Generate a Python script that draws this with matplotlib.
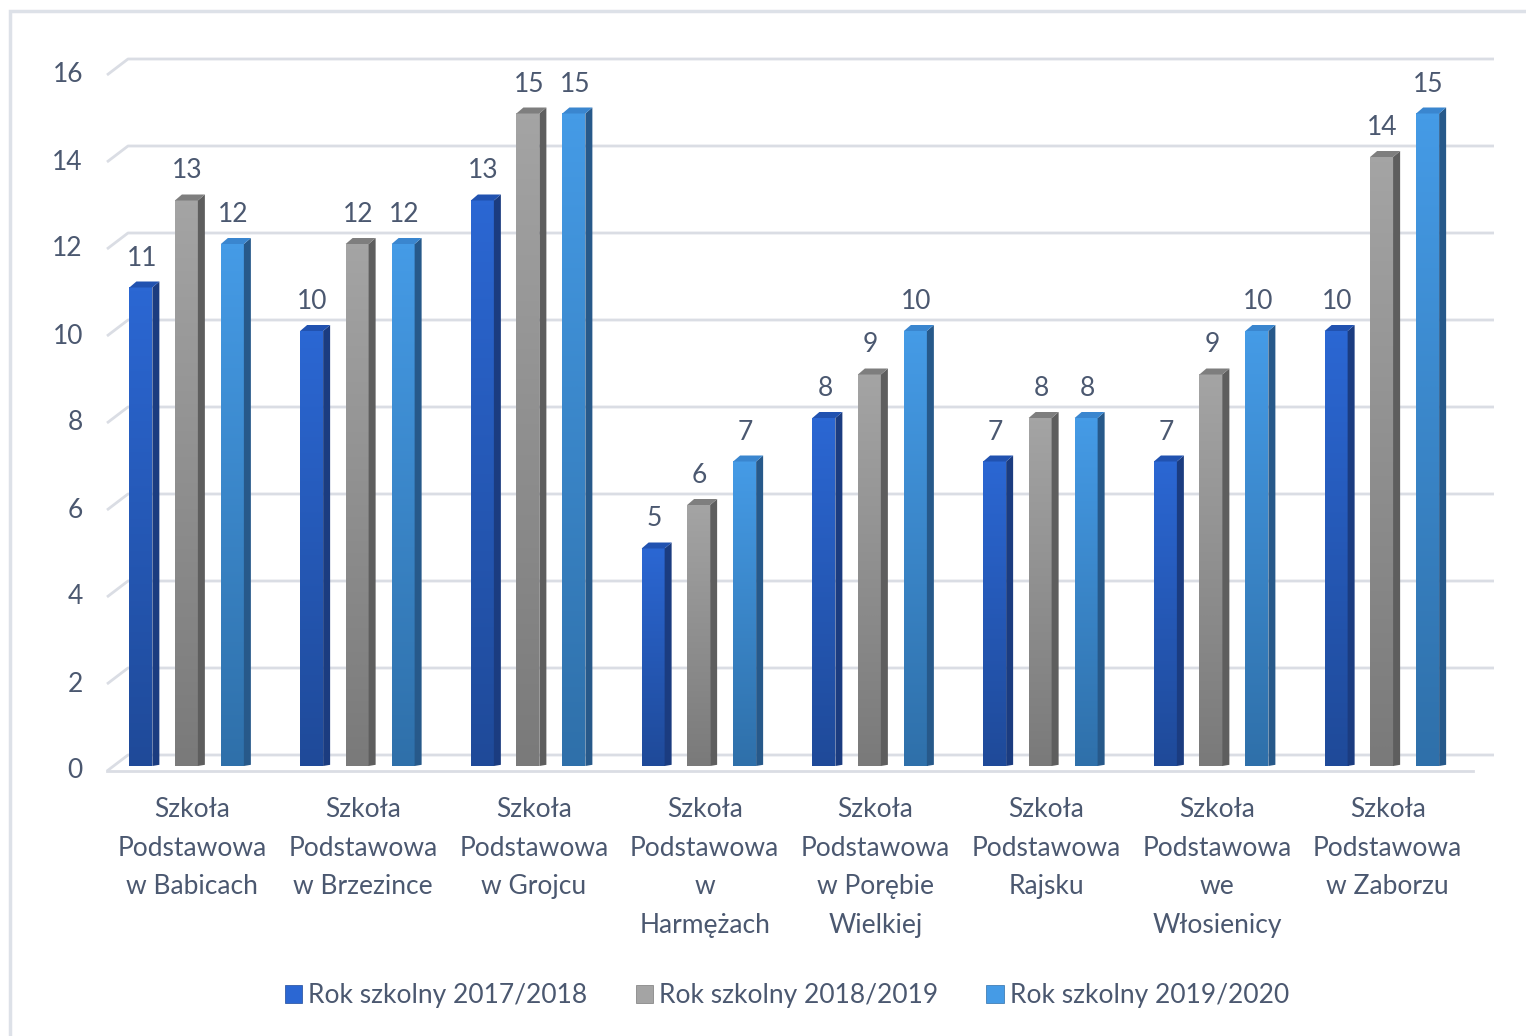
import numpy as np
import matplotlib.pyplot as plt
from matplotlib.patches import Polygon, Rectangle, Patch
from matplotlib.colors import LinearSegmentedColormap

plt.rcParams['font.family'] = ['Lato', 'DejaVu Sans']

# Dane
szkoly = [
    "Szkoła\nPodstawowa\nw Babicach",
    "Szkoła\nPodstawowa\nw Brzezince",
    "Szkoła\nPodstawowa\nw Grojcu",
    "Szkoła\nPodstawowa\nw\nHarmężach",
    "Szkoła\nPodstawowa\nw Porębie\nWielkiej",
    "Szkoła\nPodstawowa\nRajsku",
    "Szkoła\nPodstawowa\nwe\nWłosienicy",
    "Szkoła\nPodstawowa\nw Zaborzu",
]
lata = ["Rok szkolny 2017/2018", "Rok szkolny 2018/2019", "Rok szkolny 2019/2020"]
rok_2017 = [11, 10, 13, 5, 8, 7, 7, 10]
rok_2018 = [13, 12, 15, 6, 9, 8, 9, 14]
rok_2019 = [12, 12, 15, 7, 10, 8, 10, 15]
serie = [rok_2017, rok_2018, rok_2019]
y_ticks = list(range(0, 17, 2))

# kolory: (góra frontu, dół frontu, bok, wierzch)
kolory = [
    ("#2b67d3", "#1f4a99", "#1b3c80", "#2152b0"),
    ("#a4a4a4", "#7a7a7a", "#5e5e5e", "#7e7e7e"),
    ("#459be6", "#2f70aa", "#27598a", "#3a86cf"),
]
tekst = "#4b5870"
siatka = "#dadde4"
fs = 19

W, H = 1526, 1036
fig = plt.figure(figsize=(W / 100, H / 100), dpi=100)

# osie: x w płaszczyźnie przedniej (107..1473 px), y w płaszczyźnie słupków (766..70 px)
x0, x1 = 107, 1473
yb, yt = 766, 70
ax = fig.add_axes([x0 / W, (H - yb) / H, (x1 - x0) / W, (yb - yt) / H])
ax.set_xlim(-0.5, 7.5)
ax.set_ylim(0, 16)
ax.axis('off')

sx = 8 / (x1 - x0)   # jednostki danych na piksel
sy = 16 / (yb - yt)

# siatka 3D (ściana tylna + ukośny odcinek)
for v in y_ticks:
    yf = v - 5 * sy
    yk = v + 11 * sy
    ax.plot([-0.5, -0.5 + 21 * sx, 7.5 + 21 * sx], [yf, yk, yk],
            color=siatka, lw=2, zorder=1, clip_on=False, solid_capstyle='butt')
    ax.text(-0.5 - 24 * sx, yf, str(v), ha='right', va='center',
            fontsize=fs, color=tekst)
ax.plot([-0.5, 7.5], [-5 * sy, -5 * sy], color=siatka, lw=2, zorder=1,
        clip_on=False)

# słupki 3D
bw = 23 * sx
dx, dy = 7 * sx, 6 * sy
offs = [-45.5 * sx, 0, 46 * sx]
shift = -6 * sx
x = np.arange(len(szkoly))
for s, (vals, kol) in enumerate(zip(serie, kolory)):
    cmap = LinearSegmentedColormap.from_list("g", [kol[1], kol[0]])
    for i, v in enumerate(vals):
        xl = x[i] + shift + offs[s] - bw / 2
        xr = xl + bw
        grad = np.linspace(0, 1, 100).reshape(-1, 1)
        ax.imshow(grad, extent=[xl, xr, 0, v], origin='lower', aspect='auto',
                  cmap=cmap, zorder=3, interpolation='bilinear')
        ax.add_patch(Polygon([(xr, 0), (xr, v), (xr + dx, v + dy), (xr + dx, dy * 0.2)],
                             closed=True, facecolor=kol[2], edgecolor='none', zorder=3))
        ax.add_patch(Polygon([(xl, v), (xr, v), (xr + dx, v + dy), (xl + dx, v + dy)],
                             closed=True, facecolor=kol[3], edgecolor='none', zorder=3))
        ax.text((xl + xr) / 2 + 1 * sx, v + 22 * sy, str(v), ha='center',
                va='baseline', fontsize=fs, color=tekst, zorder=4)

ax.set_xlim(-0.5, 7.5)
ax.set_ylim(0, 16)

# etykiety kategorii
for i, nazwa in enumerate(szkoly):
    ax.text(x[i], -31 * sy, nazwa, ha='center', va='top', fontsize=fs,
            color=tekst, linespacing=1.68, clip_on=False)

# legenda
uchwyty = [Patch(facecolor=k[0], edgecolor=k[1], lw=0.5) for k in kolory]
fig.legend(uchwyty, lata, loc='center', bbox_to_anchor=(787 / W, 1 - 996 / H),
           ncol=3, frameon=False, fontsize=fs, labelcolor=tekst,
           handlelength=0.65, handleheight=0.65, handletextpad=0.25,
           columnspacing=1.82)

# ramka wykresu
fig.add_artist(Rectangle((10 / W, -0.05), 1.2, 1.05 - 11 / H, transform=fig.transFigure,
                         fill=False, edgecolor="#dde1e8", lw=2.5))

fig.savefig("out.png", dpi=100)
